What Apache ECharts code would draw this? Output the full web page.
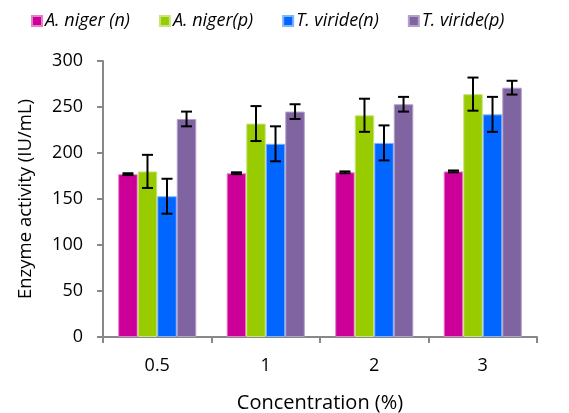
<!DOCTYPE html>
<html><head><meta charset="utf-8">
<script src="https://cdn.jsdelivr.net/npm/echarts@6/dist/echarts.min.js"></script>
<style>html,body{margin:0;padding:0;background:#fff}#c{width:569px;height:413px}</style>
</head><body><div id="c"></div>
<script>
const categories = ['0.5', '1', '2', '3'];
const seriesNames = ['A. niger (n)', 'A. niger(p)', 'T. viride(n)', 'T. viride(p)'];
const nigerN = [177, 178, 179, 180];
const nigerP = [180, 232, 241, 264];
const virideN = [153, 210, 211, 242];
const virideP = [237, 245, 253, 271];
const errNigerN = [1, 1, 1, 1];
const errNigerP = [18, 19, 18, 18];
const errVirideN = [19, 19, 19, 19];
const errVirideP = [8, 8, 8, 7.5];
const yTicks = [0, 50, 100, 150, 200, 250, 300];

const values = [nigerN, nigerP, virideN, virideP];
const errors = [errNigerN, errNigerP, errVirideN, errVirideP];
const colors = ['#CC0099', '#99CC00', '#0066FF', '#8064A2'];
const borders = ['#E580C8', '#C8E680', '#80B2FF', '#B3A2C8'];
const gapFrac = 0.28;

const errData = [];
values.forEach((vals, s) => vals.forEach((v, i) => {
  errData.push([i, v - errors[s][i], v + errors[s][i], s]);
}));

const barSeries = values.map((vals, s) => ({
  name: seriesNames[s], type: 'bar', data: vals,
  barGap: '0%', barCategoryGap: (gapFrac * 100) + '%',
  itemStyle: { color: colors[s], borderColor: borders[s], borderWidth: 1 }
}));

const errSeries = {
  type: 'custom', data: errData, z: 10, silent: true,
  encode: { x: 0, y: [1, 2] },
  renderItem: function (params, api) {
    const ci = api.value(0), lo = api.value(1), hi = api.value(2), s = api.value(3);
    const band = api.size([1, 0])[0];
    const bw = band * (1 - gapFrac) / 4;
    const c = api.coord([ci, lo]);
    const x = c[0] - 2 * bw + (s + 0.5) * bw;
    const yl = c[1];
    const yh = api.coord([ci, hi])[1];
    const cap = 5.5;
    const st = { stroke: '#000', lineWidth: 2 };
    return { type: 'group', children: [
      { type: 'line', shape: { x1: x, y1: yl, x2: x, y2: yh }, style: st },
      { type: 'line', shape: { x1: x - cap, y1: yl, x2: x + cap, y2: yl }, style: st },
      { type: 'line', shape: { x1: x - cap, y1: yh, x2: x + cap, y2: yh }, style: st }
    ]};
  }
};

const font = '"Open Sans", sans-serif';
const chart = echarts.init(document.getElementById('c'));
chart.setOption({
  animation: false,
  textStyle: { fontFamily: font },
  legend: {
    data: seriesNames, top: 7, left: 26, itemGap: 29,
    icon: 'rect', itemWidth: 10, itemHeight: 10,
    textStyle: { fontSize: 18, fontStyle: 'italic', color: '#000', fontFamily: font, padding: [0, 0, 0, -2] }
  },
  grid: { left: 103, right: 32, top: 61, bottom: 76, containLabel: false, outerBoundsMode: 'none' },
  xAxis: {
    type: 'category', data: categories,
    name: 'Concentration (%)', nameLocation: 'middle', nameGap: 56,
    nameTextStyle: { fontSize: 20, color: '#000' },
    axisLine: { lineStyle: { color: '#888', width: 2 } },
    axisTick: { show: true, length: 6, lineStyle: { color: '#888', width: 2 } },
    axisLabel: { fontSize: 18, color: '#000', margin: 20 }
  },
  yAxis: {
    type: 'value', min: 0, max: 300, interval: 50,
    name: 'Enzyme activity (IU/mL)', nameLocation: 'middle', nameGap: 68,
    nameTextStyle: { fontSize: 18.5, color: '#000' },
    axisLine: { show: true, lineStyle: { color: '#888', width: 2 } },
    axisTick: { show: true, length: 6, lineStyle: { color: '#888', width: 2 } },
    axisLabel: { fontSize: 18, color: '#000', margin: 20,
      formatter: v => yTicks.includes(v) ? String(v) : '' },
    splitLine: { show: false }
  },
  series: [...barSeries, errSeries]
});
</script></body></html>
